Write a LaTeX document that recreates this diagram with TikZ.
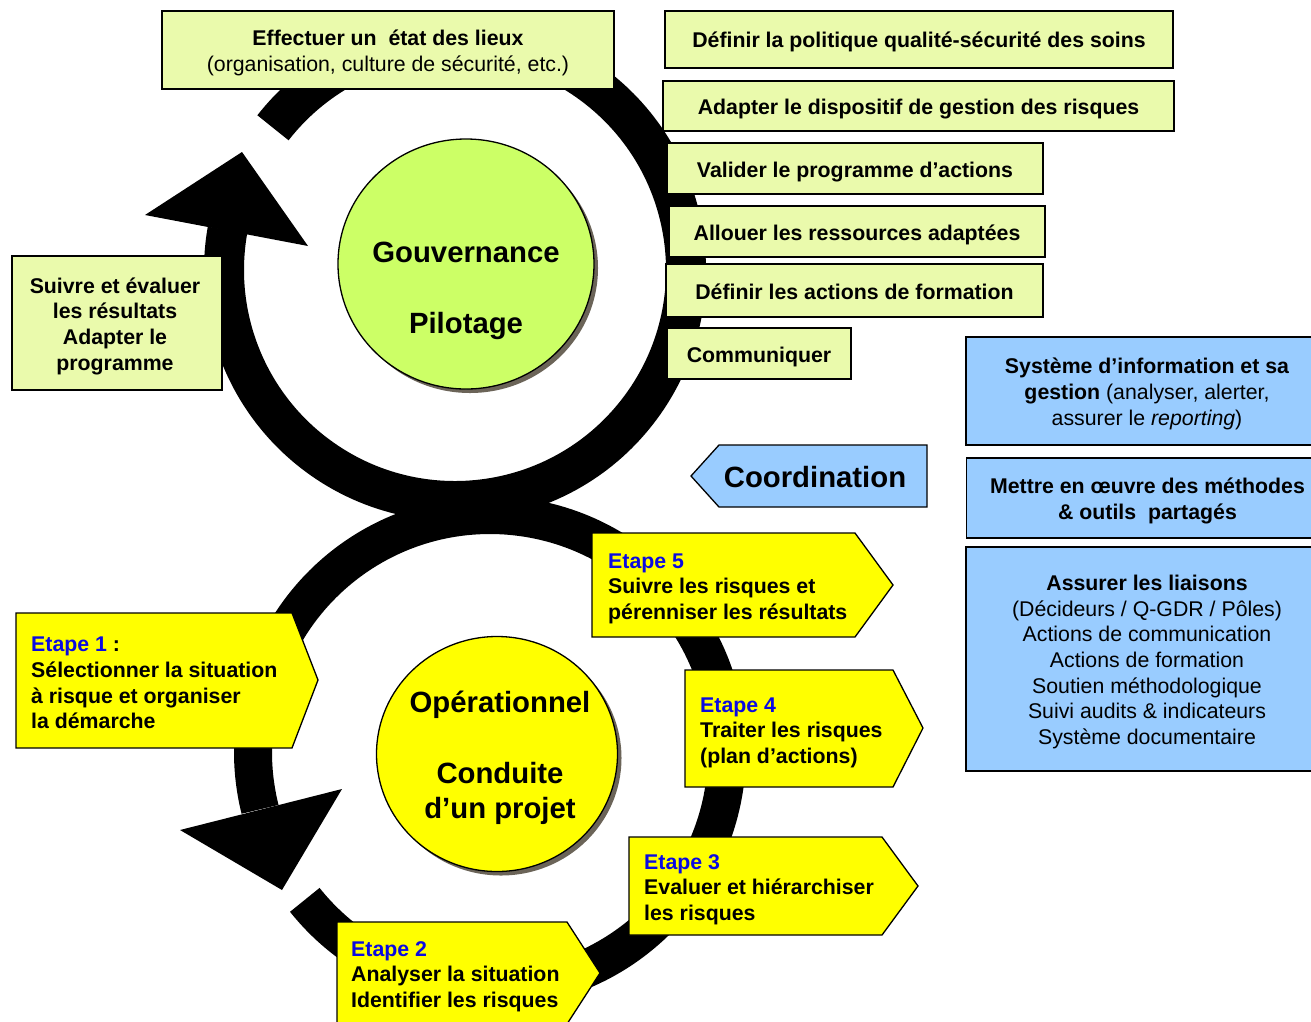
\documentclass[tikz,border=0pt]{standalone}
\usepackage{fontspec}
\setmainfont{Liberation Sans}
\usetikzlibrary{shapes.geometric,shadows}
\definecolor{boxgreen}{RGB}{234,250,172}
\definecolor{circgreen}{RGB}{204,255,102}
\definecolor{ylw}{RGB}{255,255,0}
\definecolor{boxblue}{RGB}{153,204,255}
\definecolor{etblue}{RGB}{10,10,225}
\definecolor{shadowc}{RGB}{107,100,88}
\newcommand{\et}[1]{\textcolor{etblue}{#1}}
\begin{document}
\begin{tikzpicture}[x=1pt,y=-1pt,
  txt/.style={font=\fontsize{21.3}{25.7}\selectfont\bfseries, inner sep=0pt},
  big/.style={font=\fontsize{29.3}{35.5}\selectfont\bfseries, inner sep=0pt},
  frame/.style={draw=black, line width=1.3pt},
  gbox/.style={frame, fill=boxgreen, inner sep=0pt},
  bbox/.style={frame, fill=boxblue, inner sep=0pt},
  btext/.style={txt, align=center, yshift=-3pt},
  ypent/.style={frame, fill=ylw, line join=miter},
  ytext/.style={txt, anchor=west, align=left, yshift=-2pt},
  ring/.style={draw=black, line width=40pt},
  arrowtip/.style={fill=black},
  bubble/.style={ellipse, frame, inner sep=0pt, drop shadow={shadow xshift=4pt, shadow yshift=-4pt, fill=shadowc, opacity=1}},
]
\useasboundingbox (0,0) rectangle (1311,1021);
\clip (0,0) rectangle (1311,1021);
\fill[white] (0,0) rectangle (1311,1021);

% rings
\coordinate (uc) at (455,270);
\coordinate (lc) at (490,752);
\draw[ring] (uc) ++(-142:231) arc[start angle=-142, end angle=190, radius=231];
\fill[arrowtip] (145,215) -- (242,152) -- (308,246) -- cycle;
\draw[ring, line width=38pt] (lc) ++(141.4:237) arc[start angle=141.4, end angle=-194, radius=237];
\fill[arrowtip] (180,830) -- (282,890) -- (342,789) -- cycle;

% circles
\node[bubble, fill=circgreen, minimum width=256pt, minimum height=250pt] (gov) at (466,264) {};
\node[big, align=center] (govtext) at (466,291) {Gouvernance\\[35.5pt]Pilotage};
\node[bubble, fill=ylw, minimum width=241pt, minimum height=235pt] (ope) at (497,754) {};
\node[big, align=center] (opetext) at (500,758) {Opérationnel\\[35.5pt]Conduite\\d’un projet};

% governance boxes
\node[gbox, minimum width=452pt, minimum height=78pt] (etat) at (388,50) {};
\node[btext] (etat-t) at (etat) {Effectuer un\ \ état des lieux\\\mdseries(organisation, culture de sécurité, etc.)};
\node[gbox, minimum width=508pt, minimum height=57pt] (politique) at (919,39.5) {};
\node[btext, yshift=1pt] (politique-t) at (politique) {Définir la politique qualité-sécurité des soins};
\node[gbox, minimum width=511pt, minimum height=50pt] (dispositif) at (918.5,106) {};
\node[btext] (dispositif-t) at (dispositif) {Adapter le dispositif de gestion des risques};
\node[gbox, minimum width=376pt, minimum height=51pt] (valider) at (855,168.5) {};
\node[btext, yshift=-1pt] (valider-t) at (valider) {Valider le programme d’actions};
\node[gbox, minimum width=376pt, minimum height=51pt] (allouer) at (857,231.5) {};
\node[btext] (allouer-t) at (allouer) {Allouer les ressources adaptées};
\node[gbox, minimum width=377pt, minimum height=53pt] (formation) at (854.5,290.5) {};
\node[btext, yshift=1.5pt] (formation-t) at (formation) {Définir les actions de formation};
\node[gbox, minimum width=184pt, minimum height=51pt] (communiquer) at (759,353.5) {};
\node[btext] (communiquer-t) at (communiquer) {Communiquer};
\node[gbox, minimum width=210pt, minimum height=134pt] (suivre) at (117,323) {};
\node[btext, xshift=-2pt] (suivre-t) at (suivre) {Suivre et évaluer\\les résultats\\Adapter le\\programme};

% coordination boxes
\node[bbox, minimum width=362pt, minimum height=108pt] (sysinfo) at (1147,391) {};
\node[btext] (sysinfo-t) at (sysinfo) {Système d’information et sa\\gestion \mdseries(analyser, alerter,\\\mdseries assurer le \textit{reporting})};
\node[bbox, minimum width=362pt, minimum height=80pt] (methodes) at (1147.5,498) {};
\node[btext] (methodes-t) at (methodes) {Mettre en œuvre des méthodes\\\& outils\ \ partagés};
\node[bbox, minimum width=362pt, minimum height=224pt] (liaisons) at (1147,659) {};
\node[btext] (liaisons-t) at (liaisons) {Assurer\ les liaisons\\\mdseries(Décideurs / Q-GDR / Pôles)\\\mdseries Actions de communication\\\mdseries Actions de formation\\\mdseries Soutien méthodologique\\\mdseries Suivi audits \& indicateurs\\\mdseries Système documentaire};

\draw[frame, fill=boxblue] (691,476) -- (719,445) -- (927,445) -- (927,507) -- (719,507) -- cycle;
\node[big] (coord) at (815,477) {Coordination};

% steps
\draw[ypent] (16,613) -- (292,613) -- (318,680) -- (292,748) -- (16,748) -- cycle;
\draw[ypent] (337,922) -- (567,922) -- (600,973) -- (567,1024) -- (337,1024) -- cycle;
\draw[ypent] (629,837) -- (882,837) -- (918,886) -- (882,935) -- (629,935) -- cycle;
\draw[ypent] (685,670) -- (893,670) -- (923,728) -- (893,787) -- (685,787) -- cycle;
\draw[ypent] (592,533) -- (855,533) -- (893,585) -- (855,637) -- (592,637) -- cycle;

\node[ytext] (e1) at (31,681) {\et{Etape 1} :\\Sélectionner la situation\\à risque et organiser\\la démarche};
\node[ytext, yshift=1pt] (e2) at (351,975.6) {\et{Etape 2}\\Analyser\ la situation\\Identifier les risques};
\node[ytext] (e3) at (644,887.6) {\et{Etape 3}\\Evaluer et hiérarchiser\\les risques};
\node[ytext] (e4) at (700,730.6) {\et{Etape 4}\\Traiter les risques\\(plan d’actions)};
\node[ytext] (e5) at (608,586.6) {\et{Etape 5}\\Suivre les risques et\\pérenniser les résultats};
\end{tikzpicture}
\end{document}
